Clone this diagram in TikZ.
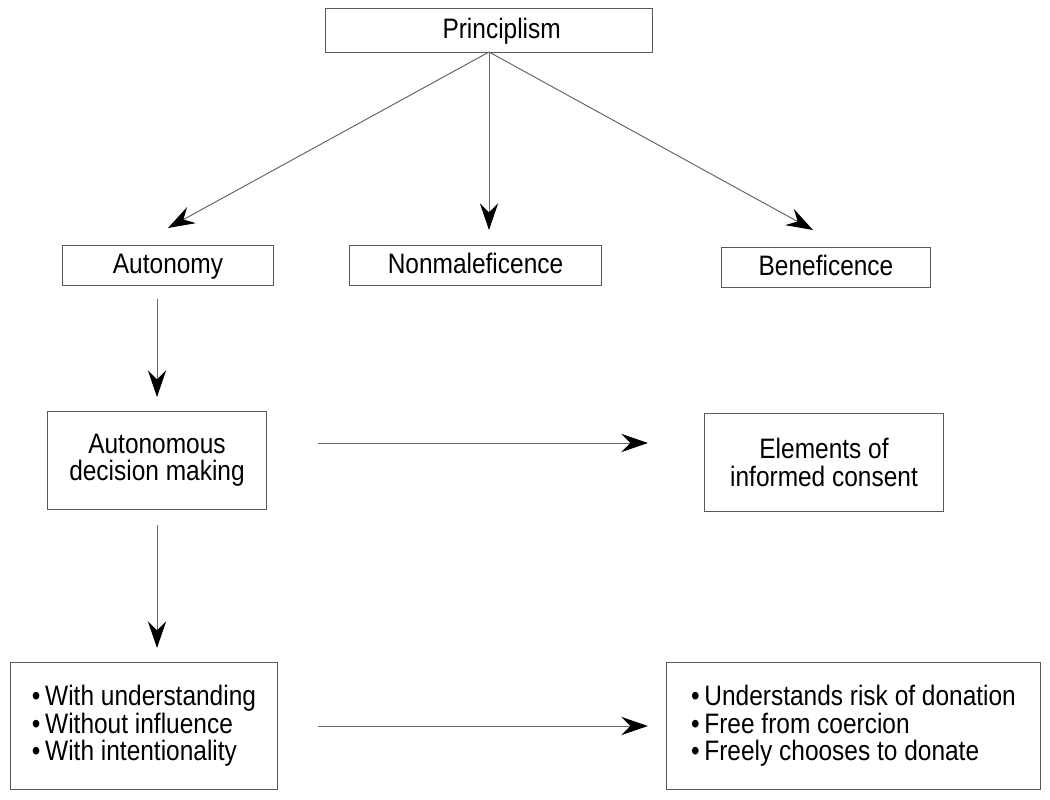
\documentclass[tikz,border=0pt]{standalone}
\usepackage{fontspec}
\setmainfont{Liberation Sans}[FakeStretch=0.87]
\usetikzlibrary{arrows.meta}

\begin{document}
\begin{tikzpicture}[x=0.025cm, y=-0.025cm,
		every node/.style={rectangle, draw=black!65, line width=0.7pt, inner sep=0pt, outer sep=0pt, font=\fontsize{20}{19.5}\selectfont},
		onerow/.style={text height=13pt, text depth=1pt},
		link/.style={draw=black!60, line width=0.7pt, -{Stealth[length=19pt, width=13pt, inset=6.5pt, color=black]}}]
		\useasboundingbox (0,0) rectangle (1050,800);

		\node[onerow, minimum width=8.15cm, minimum height=1.075cm] (principlism) at (489,30.5) {\hspace*{18pt}Principlism};

		\node[onerow, minimum width=5.25cm, minimum height=1cm] (autonomy) at (168,265) {Autonomy};
		\node[onerow, minimum width=6.275cm, minimum height=1cm] (nonmaleficence) at (475.5,265) {Nonmaleficence};
		\node[onerow, minimum width=5.2cm, minimum height=1cm] (beneficence) at (826,267) {Beneficence};

		\node[minimum width=5.45cm, minimum height=2.425cm, align=center] (decisionMaking) at (157,460.5) {Autonomous\\decision making};
		\node[minimum width=5.95cm, minimum height=2.425cm, align=center] (informedConsent) at (824,462.5) {Elements of\\informed consent};

		\node[minimum width=6.65cm, minimum height=3.15cm, align=left] (decisionList) at (144,726) {•\,With understanding\\•\,Without influence\\•\,With intentionality};
		\node[minimum width=9.325cm, minimum height=3.15cm, align=left] (consentList) at (853.5,726) {•\,Understands risk of donation\\•\,Free from coercion\\•\,Freely chooses to donate};

		\draw[link] (principlism.south) -- ([yshift=0.425cm]autonomy.north);
		\draw[link, shorten >=0.375cm] (principlism.south) -- (principlism.south |- nonmaleficence.north);
		\draw[link] (principlism.south) -- ([xshift=-0.325cm, yshift=0.425cm]beneficence.north);

		\draw[link, shorten <=0.35cm, shorten >=0.375cm] (decisionMaking.north |- autonomy.south) -- (decisionMaking.north);
		\draw[link, shorten <=0.4cm, shorten >=0.375cm] (decisionMaking.south) -- (decisionMaking.south |- decisionList.north);

		\draw[link, shorten <=1.3cm, shorten >=1.425cm] ([yshift=0.4375cm]decisionMaking.east) -- ([yshift=0.4375cm]decisionMaking.east -| informedConsent.west);
		\draw[link, shorten <=1.025cm, shorten >=0.475cm] (decisionList.east) -- (decisionList.east -| consentList.west);
	\end{tikzpicture}
\end{document}
